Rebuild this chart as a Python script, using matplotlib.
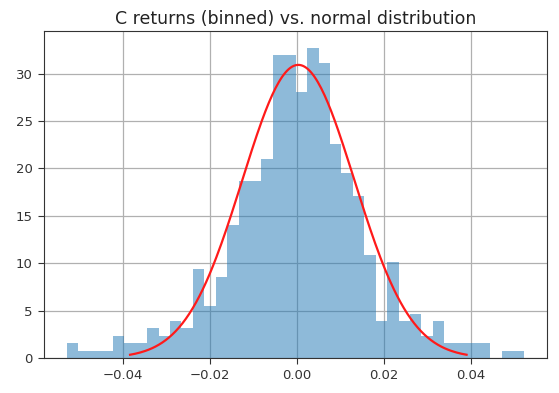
import numpy as np
import matplotlib
matplotlib.use("Agg")
import matplotlib.pyplot as plt

# Data
ret_min = -0.0529
ret_max = 0.0523
n_bins = 40
counts = [2, 1, 1, 1, 3, 2, 2, 4, 3, 5,
          4, 12, 7, 11, 18, 24, 24, 27, 41, 41,
          36, 42, 40, 29, 25, 22, 14, 5, 13, 5,
          6, 3, 5, 2, 2, 2, 2, 0, 1, 1]
mu = 0.0003
sigma = 0.0129
title = "C returns (binned) vs. normal distribution"
xticks = [-0.04, -0.02, 0.00, 0.02, 0.04]
yticks = [0, 5, 10, 15, 20, 25, 30]

edges = np.linspace(ret_min, ret_max, n_bins + 1)
centers = (edges[:-1] + edges[1:]) / 2

fig = plt.figure(figsize=(5.59, 3.93), dpi=100)
ax = fig.add_axes([44/559, 35/393, 503/559, 327/393])
ax.hist(centers, bins=edges, weights=counts, density=True, alpha=0.5, color="C0", zorder=2)

x = np.linspace(mu - 3*sigma, mu + 3*sigma, 200)
pdf = np.exp(-0.5*((x - mu)/sigma)**2) / (sigma*np.sqrt(2*np.pi))
ax.plot(x, pdf, color="#ff1a1a", lw=1.6, zorder=3)

ax.grid(True, color="#b0b0b0", lw=0.9, zorder=0)
ax.set_axisbelow(True)
ax.set_xticks(xticks)
ax.set_xticklabels([f"{v:.2f}" if v >= 0 else f"\u2212{abs(v):.2f}" for v in xticks])
ax.set_yticks(yticks)
ax.set_xlim(-0.0582, 0.0575)
ax.set_ylim(0, 34.5)
ax.tick_params(labelsize=9.5, colors="#333333", length=4.5)
for s in ax.spines.values():
    s.set_color("#333333")
ax.set_title(title, fontsize=12.5, color="#222222", pad=5)
fig.savefig("out.png", dpi=100)
